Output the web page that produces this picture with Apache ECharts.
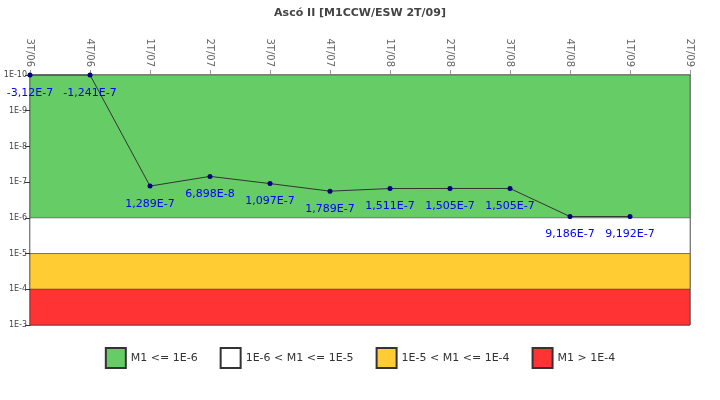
<!DOCTYPE html>
<html><head><meta charset="utf-8">
<script src="https://cdn.jsdelivr.net/npm/echarts@6/dist/echarts.min.js"></script>
<style>html,body{margin:0;padding:0;background:#fff}#c{width:720px;height:400px}</style>
</head><body><div id="c"></div>
<script>
const categories = ['3T/06','4T/06','1T/07','2T/07','3T/07','4T/07','1T/08','2T/08','3T/08','4T/08','1T/09','2T/09'];
const values = [-3.12e-7, -1.241e-7, 1.289e-7, 6.898e-8, 1.097e-7, 1.789e-7, 1.511e-7, 1.505e-7, 1.505e-7, 9.186e-7, 9.192e-7];
const valueLabels = ['-3,12E-7','-1,241E-7','1,289E-7','6,898E-8','1,097E-7','1,789E-7','1,511E-7','1,505E-7','1,505E-7','9,186E-7','9,192E-7'];
const bandNames = ['M1 <= 1E-6', '1E-6 < M1 <= 1E-5', '1E-5 < M1 <= 1E-4', 'M1 > 1E-4'];
const bandLimits = [[1e-10, 1e-6], [1e-6, 1e-5], [1e-5, 1e-4], [1e-4, 1e-3]];
const bandColors = ['#66cc66', '#ffffff', '#ffcc33', '#ff3333'];

const yMin = 1e-10, yMax = 1e-3;
const chart = echarts.init(document.getElementById('c'));

const bandSeries = bandNames.map((name, i) => ({
  name: name, type: 'line', data: [],
  itemStyle: { color: bandColors[i], borderColor: '#333', borderWidth: 1 },
  markArea: i === 0 ? {
    silent: true,
    data: bandLimits.map((b, j) => [
      { yAxis: b[0], itemStyle: { color: bandColors[j], borderColor: '#333', borderWidth: 0.5 } },
      { yAxis: b[1] }
    ])
  } : undefined
}));

chart.setOption({
  animation: false,
  title: {
    text: 'Ascó II [M1CCW/ESW 2T/09]', left: 'center', top: 3,
    textStyle: { fontSize: 11, fontWeight: 'bold', color: '#444', fontFamily: 'DejaVu Sans' }
  },
  grid: { left: 30, right: 30, top: 75, bottom: 75, show: true, borderColor: '#333', borderWidth: 1 },
  legend: {
    bottom: 26, left: 'center', itemWidth: 20, itemHeight: 20, itemGap: 22,
    icon: 'rect',
    data: bandNames,
    textStyle: { fontSize: 11, color: '#333', fontFamily: 'DejaVu Sans' }
  },
  xAxis: {
    type: 'category', data: categories, position: 'top', boundaryGap: false,
    axisLine: { lineStyle: { color: '#333' } },
    axisTick: { show: true, lineStyle: { color: '#999' } },
    axisLabel: { rotate: 90, fontSize: 10, color: '#666', fontFamily: 'DejaVu Sans', interval: 0 },
    splitLine: { show: false }
  },
  yAxis: {
    type: 'log', logBase: 10, min: yMin, max: yMax, inverse: true,
    axisLine: { show: true, lineStyle: { color: '#333' } },
    axisTick: { show: true },
    axisLabel: {
      fontSize: 8, color: '#444', fontFamily: 'DejaVu Sans', margin: 3,
      formatter: v => '1E' + Math.round(Math.log10(v))
    },
    splitLine: { show: false }
  },
  series: bandSeries.concat([{
    name: 'M1', type: 'line',
    data: values.map(v => Math.max(v, yMin)),
    z: 5,
    symbol: 'circle', symbolSize: 5,
    lineStyle: { color: '#333', width: 1 },
    itemStyle: { color: '#000080' },
    label: {
      show: true, position: 'bottom', distance: 10,
      color: '#0000ff', fontSize: 11, fontFamily: 'DejaVu Sans',
      formatter: p => valueLabels[p.dataIndex]
    }
  }])
});
</script></body></html>
